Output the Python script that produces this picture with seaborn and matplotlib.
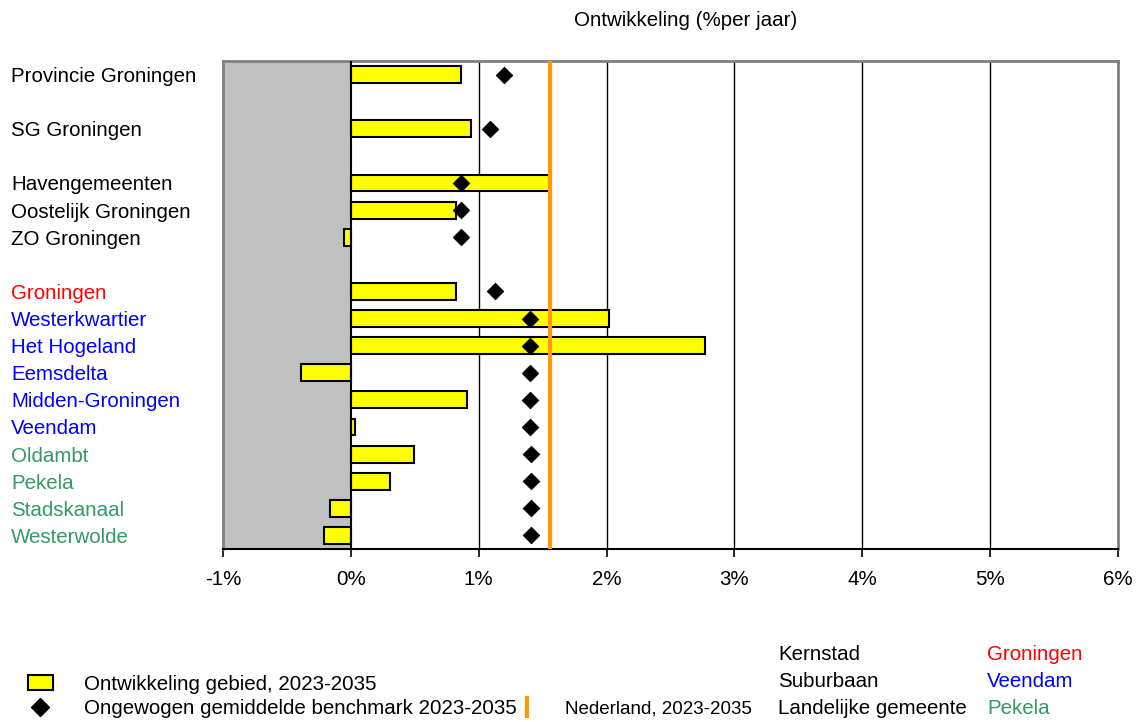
import matplotlib
matplotlib.use("Agg")
import matplotlib.pyplot as plt
import seaborn as sns
import pandas as pd
from matplotlib.patches import Patch
from matplotlib.lines import Line2D

# Data (growth % per year, 2023-2035)
groups = [
    ["Provincie Groningen"],
    ["SG Groningen"],
    ["Havengemeenten", "Oostelijk Groningen", "ZO Groningen"],
    ["Groningen", "Westerkwartier", "Het Hogeland", "Eemsdelta", "Midden-Groningen",
     "Veendam", "Oldambt", "Pekela", "Stadskanaal", "Westerwolde"],
]
growth = [0.865, 0.94, 1.55, 0.82, -0.05,
          0.82, 2.02, 2.77, -0.39, 0.91, 0.03, 0.49, 0.305, -0.165, -0.21]
benchmark = [1.20, 1.09, 0.865, 0.865, 0.865,
             1.125, 1.40, 1.40, 1.40, 1.40, 1.40, 1.41, 1.41, 1.41, 1.41]
label_type = ["regio", "regio", "regio", "regio", "regio",
              "kernstad", "suburbaan", "suburbaan", "suburbaan", "suburbaan", "suburbaan",
              "landelijk", "landelijk", "landelijk", "landelijk"]
nederland = 1.56
type_colors = {"regio": "black", "kernstad": "#FF0000",
               "suburbaan": "#0000FF", "landelijk": "#339966"}

# row positions with an empty slot between groups
names, pos = [], []
p = 0
for g in groups:
    for n in g:
        names.append(n)
        pos.append(p)
        p += 1
    p += 1

df = pd.DataFrame({"gebied": names, "pos": pos, "groei": growth,
                   "bench": benchmark, "type": label_type})

sns.set_style("white")
plt.rcParams["font.family"] = ["Liberation Sans", "DejaVu Sans"]
plt.rcParams["text.color"] = "black"
plt.rcParams["xtick.color"] = "black"
plt.rcParams["ytick.color"] = "black"
plt.rcParams["xtick.labelcolor"] = "black"

fs = 14.8

fig = plt.figure(figsize=(11.4, 7.22), dpi=100)
ax = fig.add_axes([223 / 1140, 1 - 549 / 722, (1118 - 223) / 1140, (549 - 61) / 722])

ax.axvspan(-1, 0, color="#C0C0C0", zorder=0, lw=0)
for v in range(1, 7):
    ax.axvline(v, color="black", lw=1, zorder=1)
ax.axvline(0, color="black", lw=1.5, zorder=3)

sns.barplot(data=df, x="groei", y="pos", orient="h", native_scale=True,
            color="#FFFF00", edgecolor="black", linewidth=1.5, width=0.62,
            saturation=1, ax=ax, zorder=2)
ax.axvline(nederland, color="#FF9900", lw=3, zorder=4)
sns.scatterplot(data=df, x="bench", y="pos", marker="D", s=70,
                color="black", edgecolor="black", ax=ax, zorder=5, legend=False)

ax.set_xlim(-1, 6)
ax.set_ylim(p - 1 - 0.5, -0.5)
ax.set_xticks(range(-1, 7))
ax.set_xticklabels([f"{v}%" for v in range(-1, 7)], fontsize=fs)
ax.tick_params(axis="x", bottom=True, length=6, width=1.2, direction="out", pad=9)
ax.set_yticks(df["pos"])
ax.set_yticklabels(df["gebied"], fontsize=fs, ha="left")
ax.tick_params(axis="y", left=False, pad=(223 - 16) * 72 / 100)
for lbl, t in zip(ax.get_yticklabels(), df["type"]):
    lbl.set_color(type_colors[t])
ax.set_xlabel("")
ax.set_ylabel("")
for side in ["top", "right", "left"]:
    ax.spines[side].set_color("#808080")
    ax.spines[side].set_linewidth(2)
ax.spines["bottom"].set_color("black")
ax.spines["bottom"].set_linewidth(1.5)

fig.text(686 / 1140, 1 - 20 / 722, "Ontwikkeling (%per jaar)", fontsize=fs,
         ha="center", va="center")

# legend
h1 = [Patch(facecolor="#FFFF00", edgecolor="black", lw=1.5),
      Line2D([], [], marker="D", color="black", ls="none", markersize=9)]
fig.legend(h1, ["Ontwikkeling gebied, 2023-2035",
                "Ongewogen gemiddelde benchmark 2023-2035"],
           loc="lower left", bbox_to_anchor=(28 / 1140, 4 / 722), frameon=False,
           fontsize=fs, handlelength=1.2, handleheight=0.7, handletextpad=1.5,
           labelspacing=0.25, borderpad=0, borderaxespad=0)
h2 = [Line2D([], [], marker="|", color="#FF9900", ls="none", markersize=16, mew=3)]
fig.legend(h2, ["Nederland, 2023-2035"], loc="lower left",
           bbox_to_anchor=(518 / 1140, 4 / 722), frameon=False, fontsize=13.5,
           handlelength=1.0, handletextpad=1.5, borderpad=0, borderaxespad=0)

key_types = ["Kernstad", "Suburbaan", "Landelijke gemeente"]
key_examples = ["Groningen", "Veendam", "Pekela"]
key_colors = [type_colors["kernstad"], type_colors["suburbaan"], type_colors["landelijk"]]
for i, (kt, ke, kc) in enumerate(zip(key_types, key_examples, key_colors)):
    y = 1 - (655 + i * 26.5) / 722
    fig.text(778 / 1140, y, kt, fontsize=fs, va="center", ha="left")
    fig.text(987 / 1140, y, ke, fontsize=fs, va="center", ha="left", color=kc)

fig.savefig("out.png", dpi=100)
